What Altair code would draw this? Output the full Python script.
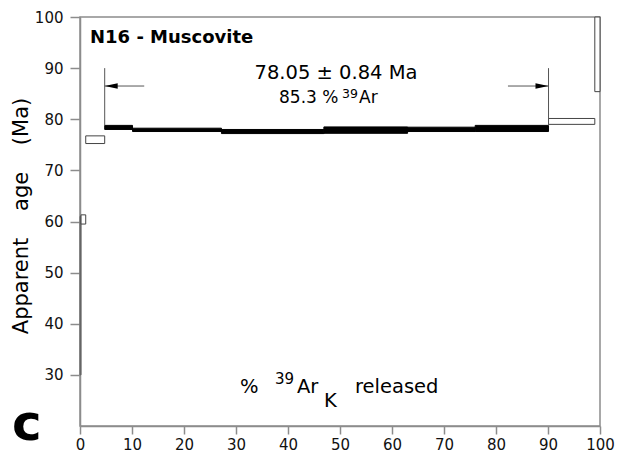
import altair as alt
import pandas as pd

# ---- data (age spectrum steps) ----
step_start = [0.0, 0.2, 1.1, 4.75, 10.1, 27.2, 46.9, 63.0, 76.0, 90.1, 99.0]
step_end = [0.2, 1.1, 4.75, 10.1, 27.2, 46.9, 63.0, 76.0, 90.1, 99.0, 100.0]
age_low = [30.0, 59.5, 75.25, 78.0, 77.6, 77.2, 77.25, 77.6, 77.6, 79.0, 85.4]
age_high = [61.0, 61.3, 76.75, 78.8, 78.25, 78.0, 78.5, 78.45, 78.8, 80.15, 100.0]
step_kind = ["first", "step", "step", "plateau", "plateau", "plateau",
             "plateau", "plateau", "plateau", "step", "step"]

plateau_bounds = [4.75, 90.1]
marker_top = [90.0, 90.0]
marker_bottom = [78.8, 78.8]
arrow_age = [86.5, 86.5]
arrow_tail = [12.35, 82.3]

x_ticks = [0, 10, 20, 30, 40, 50, 60, 70, 80, 90, 100]
y_ticks = [30, 40, 50, 60, 70, 80, 90, 100]

steps = pd.DataFrame({"start": step_start, "end": step_end,
                      "low": age_low, "high": age_high, "kind": step_kind})
markers = pd.DataFrame({"start": plateau_bounds, "low": marker_top, "high": marker_bottom})
arrows = pd.DataFrame({"start": [plateau_bounds[0], arrow_tail[1]],
                       "end": [arrow_tail[0], plateau_bounds[1]],
                       "low": arrow_age})
head_left = pd.DataFrame({"start": [plateau_bounds[0]], "low": [arrow_age[0]]})
head_right = pd.DataFrame({"start": [plateau_bounds[1]], "low": [arrow_age[1]]})

FONT = "DejaVu Sans"
AXC = "#8c8c8c"
W, H = 520, 409

xs = alt.Scale(domain=[0, 100], nice=False, zero=False)
ys = alt.Scale(domain=[20, 100], nice=False, zero=False)

x_axis = alt.Axis(values=x_ticks, title="", grid=False, domainColor=AXC, domainWidth=1.5,
                  tickColor=AXC, tickWidth=1.5, tickSize=8, labelFont=FONT,
                  labelFontSize=15, labelColor="#111", labelPadding=3, labelFlush=False)
y_axis = alt.Axis(values=y_ticks, title="", grid=False, domainColor=AXC, domainWidth=1.5,
                  tickColor=AXC, tickWidth=1.5, tickSize=10, labelFont=FONT,
                  labelFontSize=15, labelColor="#111", labelPadding=7)

X = alt.X("start:Q", scale=xs, axis=x_axis)
Y = alt.Y("low:Q", scale=ys, axis=y_axis)

rects = alt.Chart(steps).mark_rect(strokeWidth=1).encode(
    x=X, x2="end:Q", y=Y, y2="high:Q",
    fill=alt.Fill("kind:N", scale=alt.Scale(domain=["first", "step", "plateau"],
                                             range=["#666666", "white", "black"]), legend=None),
    stroke=alt.Stroke("kind:N", scale=alt.Scale(domain=["first", "step", "plateau"],
                                                 range=["#666666", "#444444", "black"]), legend=None),
)

vlines = alt.Chart(markers).mark_rule(color="#555555", strokeWidth=1).encode(
    x=X, y=Y, y2="high:Q")

hlines = alt.Chart(arrows).mark_rule(color="#555555", strokeWidth=1).encode(
    x=X, x2="end:Q", y=Y)

hl = alt.Chart(head_left).mark_point(shape="M-1,0L1,-0.42L1,0.42Z", filled=True, color="black",
                                     size=169, opacity=1, xOffset=6.5, strokeWidth=0).encode(x=X, y=Y)
hr = alt.Chart(head_right).mark_point(shape="M1,0L-1,-0.42L-1,0.42Z", filled=True, color="black",
                                      size=169, opacity=1, xOffset=-6.5, strokeWidth=0).encode(x=X, y=Y)


def label(text, x, y, size, weight="normal", align="left", angle=0, baseline="alphabetic"):
    return alt.Chart(alt.Data(values=[{"t": text}])).mark_text(
        font=FONT, fontSize=size, fontWeight=weight, align=align, baseline=baseline,
        angle=angle, color="black").encode(
        x=alt.value(x), y=alt.value(y), text="t:N")


SP = "\u00a0\u00a0\u00a0\u00a0"
texts = [
    label("N16 - Muscovite", 10, 26, 18, weight="bold"),
    label("78.05 ± 0.84 Ma", 256, 62, 19.5, align="center"),
    label("85.3 %", 199, 86, 17),
    label("39", 262, 80.5, 12.5),
    label("Ar", 279, 86, 17),
    label("%", 160, 376, 19.5),
    label("39", 195, 367, 15),
    label("Ar", 217, 376, 19.5),
    label("K", 244, 390, 19.5),
    label("released", 275, 376, 19.5),
    label("c", -68, 423, 50, weight="bold"),
    label("Apparent" + SP + "age" + SP + "(Ma)", -58, 199, 21,
          align="center", angle=270, baseline="middle"),
]

chart = alt.layer(rects, vlines, hlines, hl, hr, *texts).properties(
    width=W, height=H,
    autosize=alt.AutoSizeParams(type="none"),
    padding={"left": 72, "top": 9, "right": 15, "bottom": 28},
).configure_view(stroke=AXC, strokeWidth=1.5)

chart.save("out.html", embed_options={"renderer": "svg", "actions": False})
